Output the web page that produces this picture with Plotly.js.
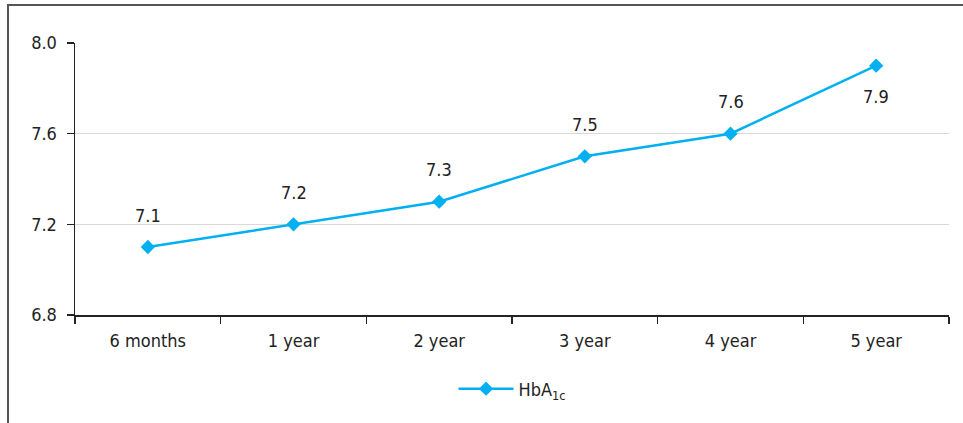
<!DOCTYPE html>
<html><head><meta charset="utf-8">
<script src="https://cdn.plot.ly/plotly-3.0.1.min.js"></script>
<style>html,body{margin:0;padding:0;background:#fff}#c{width:963px;height:423px}</style>
</head><body><div id="c"></div>
<script>
const categories = ["6 months","1 year","2 year","3 year","4 year","5 year"];
const hba1c = [7.1, 7.2, 7.3, 7.5, 7.6, 7.9];
const labelBelow = [false,false,false,false,false,true];
const yTicks = [6.8, 7.2, 7.6, 8.0];
const yTickLabels = ["6.8","7.2","7.6","8.0"];

const FONT = '"Liberation Sans Narrow", "DejaVu Sans Condensed", "Roboto", sans-serif';
const BLUE = '#00b0f0';
const FS = 18;

const trace = {
  x: categories, y: hba1c, type: 'scatter', mode: 'lines+markers',
  name: 'HbA<sub>1c</sub>',
  line: {color: BLUE, width: 2.5},
  marker: {symbol: 'diamond', size: 11, color: BLUE}
};

const annotations = categories.map((c, i) => ({
  x: c, y: hba1c[i], xref: 'x', yref: 'y', text: hba1c[i].toFixed(1),
  showarrow: false, font: {family: FONT, size: FS, color: '#222'},
  yshift: labelBelow[i] ? -31 : 32
}));

const W = 874, H = 272;
const px = v => (v - 75) / W;
const py = v => (315 - v) / H;

const layout = {
  width: 963, height: 423,
  margin: {l: 75, r: 14, t: 43, b: 108},
  paper_bgcolor: '#fff', plot_bgcolor: '#fff',
  font: {family: FONT, size: FS, color: '#222'},
  showlegend: true,
  legend: {orientation: 'h', x: 0.5, xanchor: 'center', y: py(389), yanchor: 'middle',
           itemwidth: 55, font: {family: FONT, size: FS, color: '#222'}},
  xaxis: {type: 'category', showgrid: false, showline: true, linecolor: '#222', linewidth: 1.5,
          ticks: 'outside', tickson: 'boundaries', ticklen: 7, tickcolor: '#222', tickwidth: 1.5,
          tickfont: {family: FONT, size: FS, color: '#222'}, range: [-0.5, 5.5], zeroline: false,
          ticklabelstandoff: 9},
  yaxis: {range: [6.8, 8.0], tickvals: yTicks, ticktext: yTickLabels, showgrid: true,
          gridcolor: '#d9d9d9', gridwidth: 1.5, showline: true, linecolor: '#222', linewidth: 1.5,
          ticks: 'outside', ticklen: 7, tickcolor: '#222', tickwidth: 1.5, zeroline: false,
          tickfont: {family: FONT, size: FS, color: '#222'}, ticklabelstandoff: 6},
  annotations: annotations,
  shapes: [
    {type: 'path', xref: 'paper', yref: 'paper',
     path: `M ${px(8)} ${py(423)} L ${px(8)} ${py(5)} L ${px(963)} ${py(5)}`,
     line: {color: '#555', width: 2}}
  ]
};

Plotly.newPlot('c', [trace], layout, {displayModeBar: false, staticPlot: true});
</script></body></html>
